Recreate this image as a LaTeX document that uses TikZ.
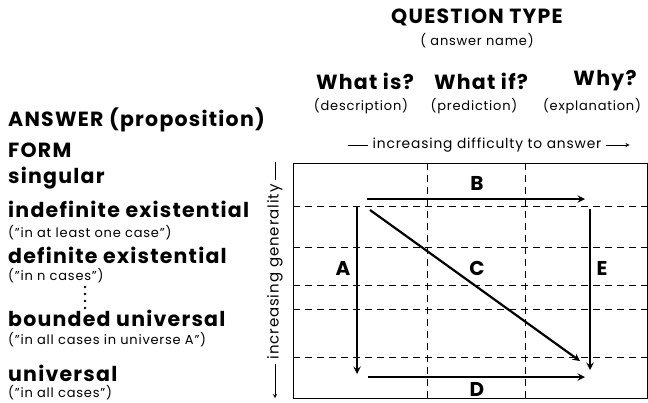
\documentclass[tikz,border=0pt]{standalone}
\usepackage{fontspec}
\setmainfont{Poppins}[LetterSpace=6]
\begin{document}
\begin{tikzpicture}[x=1pt,y=-1pt,>=stealth,
  big/.style={font=\bfseries\fontsize{20.5}{22}\selectfont,inner sep=0pt},
  small/.style={font=\fontsize{13}{14}\selectfont,inner sep=0pt},
  grid/.style={dashed,line width=.8pt,dash pattern=on 7pt off 5pt},
  flow/.style={->,line width=2.2pt},
  lbl/.style={font=\bfseries\fontsize{20}{22}\selectfont}]
\useasboundingbox (0,0) rectangle (648,402);
% question type
\node[big] (qt) at (477,17) {QUESTION TYPE};
\node[small] (an) at (477,41) {( answer name)};
\node[big] (whatis) at (365,81) {What is?};
\node[big] (whatif) at (481,81) {What if?};
\node[big] (why) at (605,81) {Why?};
\node[small] (desc) at (361,106) {(description)};
\node[small] (pred) at (474,106) {(prediction)};
\node[small] (expl) at (592,106) {(explanation)};
% answer form
\node[big,anchor=west] (ans) at (8,120) {ANSWER (proposition)};
\node[big,anchor=west] (form) at (8,150) {FORM};
\node[big,anchor=west] (sing) at (8,178) {singular};
\node[big,anchor=west] (indef) at (8,209) {indefinite existential};
\node[small,anchor=west] (indefx) at (8,233) {("in at least one case")};
\node[big,anchor=west] (def) at (8,255) {definite existential};
\node[small,anchor=west] (defx) at (8,276) {("in n cases")};
\foreach \y in {287,294,301,308} \fill (85,\y) circle (1.4pt);
\node[big,anchor=west] (bnd) at (8,318) {bounded universal};
\node[small,anchor=west] (bndx) at (8,340) {("in all cases in universe A")};
\node[big,anchor=west] (univ) at (8,373) {universal};
\node[small,anchor=west] (univx) at (8,393) {("in all cases")};
% axes
\node[small,font=\fontsize{13.8}{14}\selectfont] (diff) at (487,145) {increasing difficulty to answer};
\draw[line width=.8pt] ([xshift=-4pt]diff.west) -- ++(-20,0);
\draw[->,line width=.8pt] ([xshift=4pt]diff.east) -- ++(24,0);
\node[small,rotate=90,font=\fontsize{15}{16}\selectfont] (gen) at (275,272) {increasing generality};
\draw[line width=.8pt] (275,162) -- ([yshift=4pt]gen.east);
\draw[->,line width=.8pt] ([yshift=-4pt]gen.west) -- (275,398);
% grid
\draw[line width=1pt] (293,163) rectangle (647,398);
\foreach \x in {427,525} \draw[grid] (\x,163) -- (\x,398);
\foreach \y in {206,247,285,309,357} \draw[grid] (293,\y) -- (647,\y);
% paths
\coordinate (b1) at (367,199); \coordinate (b2) at (585,199);
\coordinate (a1) at (357,206); \coordinate (a2) at (357,374);
\coordinate (c1) at (370,210); \coordinate (c2) at (580,361);
\coordinate (d1) at (368,377); \coordinate (d2) at (585,377);
\coordinate (e1) at (590,209); \coordinate (e2) at (590,370);
\draw[flow] (b1) -- (b2);
\draw[flow] (a1) -- (a2);
\draw[flow] (c1) -- (c2);
\draw[flow] (d1) -- (d2);
\draw[flow] (e1) -- (e2);
\node[lbl] (B) at (477,183) {B};
\node[lbl] (A) at (343,268) {A};
\node[lbl] (C) at (477,268) {C};
\node[lbl] (E) at (602,268) {E};
\node[lbl] (D) at (477,389) {D};
\end{tikzpicture}
\end{document}
